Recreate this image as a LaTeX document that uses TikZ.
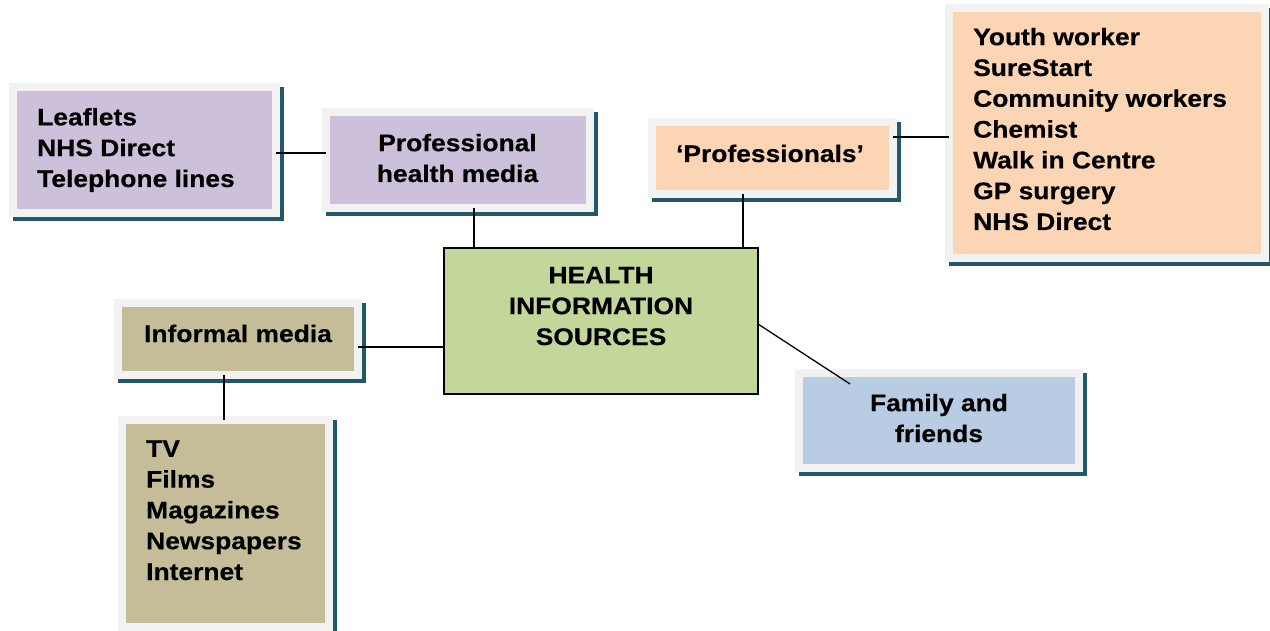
\documentclass[tikz,border=0pt]{standalone}
\usepackage{fontspec}
\setmainfont{Liberation Sans}[FakeStretch=1.1, BoldFeatures={FakeBold=0.4}]
\usetikzlibrary{shadows}
\definecolor{framec}{HTML}{F2F2F2}
\definecolor{shadowc}{HTML}{215968}
\definecolor{lavender}{HTML}{CCC0DA}
\definecolor{peach}{HTML}{FCD5B4}
\definecolor{tan}{HTML}{C4BD97}
\definecolor{lblue}{HTML}{B8CCE4}
\definecolor{lgreen}{HTML}{C4D79B}
\tikzset{
  box/.style={draw=framec, line width=8pt, inner sep=0pt, outer sep=0pt,
    drop shadow={shadow xshift=4pt, shadow yshift=-4pt, fill=shadowc, draw=shadowc, line width=8pt, opacity=1}},
  hub/.style={draw=black, line width=1.5pt, fill=lgreen, inner sep=0pt, outer sep=0pt},
  txt/.style={inner sep=0pt, font=\fontsize{24}{30.8}\selectfont\bfseries},
  conn/.style={draw=black, line width=1.3pt}
}
\begin{document}
\begin{tikzpicture}[x=1pt,y=-1pt]
\useasboundingbox (0,0) rectangle (1270,631);
% boxes
\node[box, fill=lavender, minimum width=263pt, minimum height=126pt] (leaf) at (144.5,150) {};
\node[box, fill=lavender, minimum width=264pt, minimum height=96pt] (prof) at (457.5,160) {};
\node[box, fill=peach, minimum width=241pt, minimum height=72pt] (pros) at (772.5,158) {};
\node[box, fill=peach, minimum width=316pt, minimum height=250pt] (youth) at (1107,133) {};
\node[box, fill=tan, minimum width=240pt, minimum height=72pt] (inf) at (238,339) {};
\node[box, fill=lblue, minimum width=280pt, minimum height=95pt] (fam) at (939,420.5) {};
\node[box, fill=tan, minimum width=207pt, minimum height=207pt] (tv) at (225.5,523.5) {};
\node[hub, minimum width=314pt, minimum height=146pt] (hub) at (601,321) {};
% texts (base anchor = baseline of the last line)
\node[txt, anchor=base west, align=left] (leaftxt) at (37,187) {Leaflets\\NHS Direct\\Telephone lines};
\node[txt, anchor=base, align=center] (proftxt) at (457.5,182) {Professional\\health media};
\node[txt, anchor=base, align=center] (prostxt) at (770,162) {‘Professionals’};
\node[txt, anchor=base west, align=left] (youthtxt) at (973,230) {Youth worker\\SureStart\\Community workers\\Chemist\\Walk in Centre\\GP surgery\\NHS Direct};
\node[txt, anchor=base, align=center] (inftxt) at (238,342) {Informal media};
\node[txt, anchor=base, align=center] (famtxt) at (939,442) {Family and\\friends};
\node[txt, anchor=base west, align=left] (tvtxt) at (146,580) {TV\\Films\\Magazines\\Newspapers\\Internet};
\node[txt, anchor=base, align=center] (hubtxt) at (601,345) {HEALTH\\INFORMATION\\SOURCES};
% connectors
\draw[conn] (leaf.east |- 0,153) -- (prof.west |- 0,153);
\draw[conn] (prof.south -| 474,0) -- (hub.north -| 474,0);
\draw[conn] (pros.south -| 743,0) -- (hub.north -| 743,0);
\draw[conn] (pros.east |- 0,137) -- (youth.west |- 0,137);
\draw[conn] (inf.east |- 0,347) -- (hub.west |- 0,347);
\draw[conn] (inf.south -| 224,0) -- (tv.north -| 224,0);
\coordinate (famend) at (850,384);
\draw[conn] (hub.east |- 0,324) -- (famend);
\end{tikzpicture}
\end{document}
